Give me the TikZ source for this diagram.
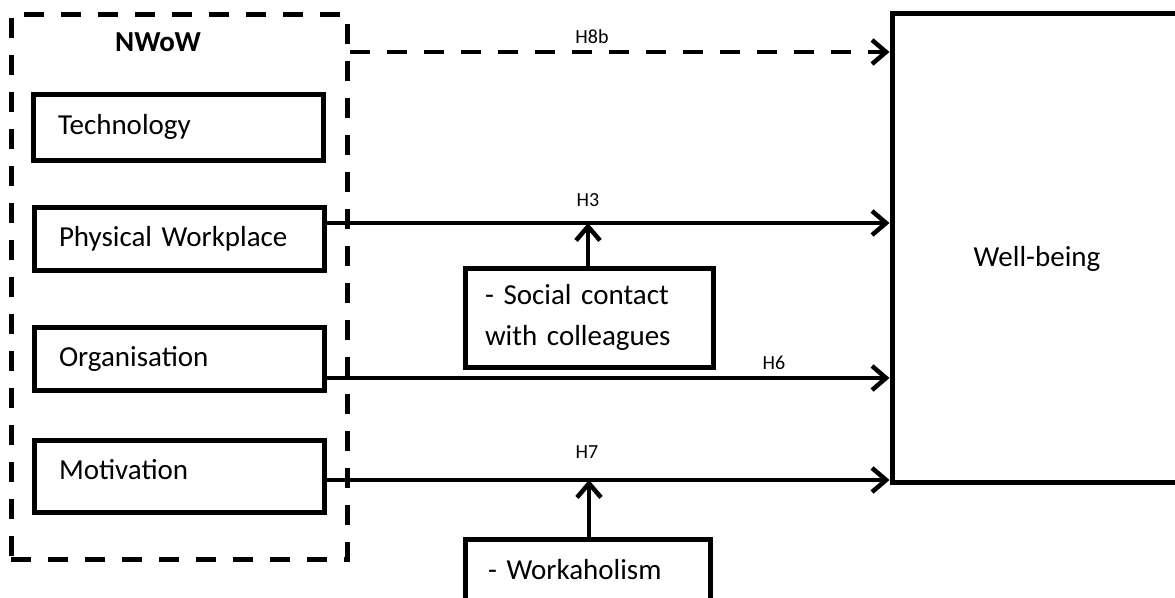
\documentclass[tikz,border=0pt]{standalone}
\usepackage{fontspec}
\setmainfont{Carlito}
\usetikzlibrary{arrows.meta}
\begin{document}
\begin{tikzpicture}[x=1pt,y=-1pt,
  every node/.style={inner sep=0pt},
  mainfont/.style={font=\fontsize{29}{35}\selectfont},
  factor/.style={draw, line width=5pt, rectangle, mainfont,
    inner xsep=25pt, text width=240pt, align=left, minimum width=290pt},
  moderator/.style={draw, line width=5pt, rectangle,
    font=\fontsize{29}{41}\selectfont, align=left},
  group/.style={draw, line width=5pt, dash pattern=on 20pt off 17pt,
    minimum width=336pt, minimum height=545pt},
  outcome/.style={draw, line width=5pt, rectangle, mainfont,
    minimum width=290pt, minimum height=469pt},
  hyp/.style={font=\fontsize{20}{24}\selectfont},
  conn/.style={line width=4.5pt, -{Straight Barb[length=14pt,width=24pt]}},
  dashconn/.style={conn, dash pattern=on 20pt off 17pt}
]
\path[use as bounding box] (0,0) rectangle (1175,597);
\clip (0,0) rectangle (1175,597);

% NWoW group with its four dimensions
\node[group] (nwow) at (179,286.5) {};
\node[font=\fontsize{29}{35}\selectfont\bfseries] (title) at (158,42) {NWoW};
\node[factor, minimum height=66pt] (tech) at (178,127) {Technology};
\node[factor, minimum height=63pt] (pw)   at (179,238.5) {Physical Workplace};
\node[factor, minimum height=63pt] (org)  at (179,358.5) {Organisation};
\node[factor, minimum height=72pt] (mot)  at (179,476) {\smash{\raisebox{-3pt}{Motivation}}};

% outcome
\node[outcome] (wb) at (1037,247.5) {\smash{\raisebox{-19pt}{Well-being}}};

% moderators
\node[moderator, inner xsep=20pt, text width=208pt, minimum height=99pt]
  (soc) at (589,317.5) {- Social contact\\with colleagues};
\node[moderator, inner xsep=23pt, text width=199pt, minimum height=62pt]
  (work) at (587.5,570) {- Workaholism};

% hypothesis paths
\coordinate (h8) at (0,52);
\coordinate (h3m) at (588,223);
\coordinate (h6) at (0,378);
\coordinate (h7m) at (589,480);

\draw[dashconn] (nwow.east |- h8) -- (wb.west |- h8);
\draw[conn] (pw.east |- h3m) -- (wb.west |- h3m);
\draw[conn] (org.east |- h6) -- (wb.west |- h6);
\draw[conn] (mot.east |- h7m) -- (wb.west |- h7m);

\draw[conn] (soc.north -| h3m) -- (h3m);
\draw[conn] (work.north -| h7m) -- (h7m);

\node[hyp] (l8) at (592,37) {H8b};
\node[hyp] (l3) at (588,200) {H3};
\node[hyp] (l6) at (774,363) {H6};
\node[hyp] (l7) at (587,452) {H7};
\end{tikzpicture}
\end{document}
